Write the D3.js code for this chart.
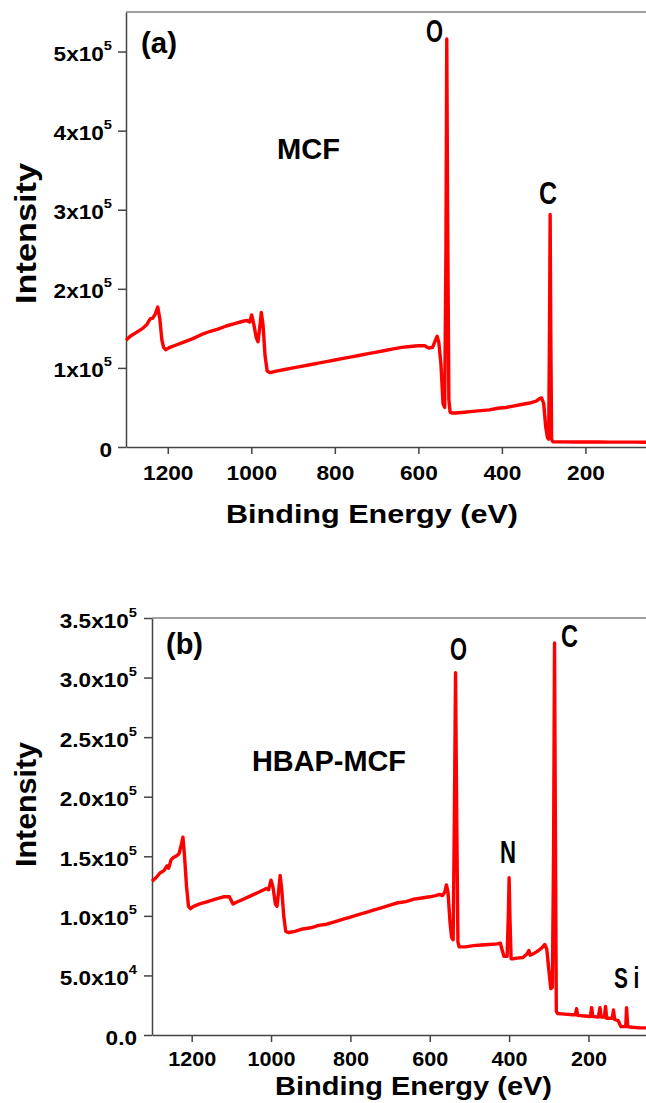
<!DOCTYPE html>
<html>
<head>
<meta charset="utf-8">
<script src="https://cdn.jsdelivr.net/npm/d3@7"></script>
<style>
  body { margin: 0; background: #fff; overflow: hidden; }
  svg { display: block; }
  text { font-family: Arial, "Liberation Sans", sans-serif; font-weight: bold; fill: #000; }
</style>
</head>
<body>
<svg id="chart" width="646" height="1103"></svg>
<script>
// XPS survey spectra (binding energy in eV, counts)
var mcfEnergy = [1300, 1290, 1275, 1260, 1250, 1242, 1236, 1230, 1224, 1219, 1214, 1210, 1205, 1195, 1180, 1160,
	1140, 1120, 1100, 1080, 1060, 1040, 1020, 1010, 1004, 999, 994, 988, 984, 980, 976, 972, 967, 962, 955, 940,
	920, 900, 880, 860, 840, 820, 800, 780, 760, 740, 720, 700, 680, 660, 640, 620, 600, 585, 575, 566, 560, 555,
	551, 546, 541, 537, 534, 532, 530, 527, 524, 520, 510, 490, 470, 450, 430, 410, 390, 370, 350, 330, 318, 310,
	305, 300, 295, 291, 288, 286, 284.5, 283, 281, 278, 270, 250, 230, 200, 170, 140, 110, 80, 55];
var mcfIntensity = [1.35e5, 1.40e5, 1.45e5, 1.50e5, 1.55e5, 1.62e5, 1.63e5, 1.68e5, 1.77e5, 1.62e5, 1.35e5, 1.26e5,
	1.23e5, 1.26e5, 1.29e5, 1.33e5, 1.37e5, 1.42e5, 1.46e5, 1.49e5, 1.53e5, 1.56e5, 1.59e5, 1.60e5, 1.58e5, 1.67e5,
	1.55e5, 1.38e5, 1.33e5, 1.50e5, 1.70e5, 1.55e5, 1.15e5, 0.96e5, 0.94e5, 0.96e5, 0.98e5, 1.00e5, 1.02e5, 1.04e5,
	1.06e5, 1.08e5, 1.10e5, 1.12e5, 1.14e5, 1.16e5, 1.18e5, 1.20e5, 1.22e5, 1.24e5, 1.26e5, 1.27e5, 1.28e5, 1.28e5,
	1.25e5, 1.26e5, 1.34e5, 1.40e5, 1.32e5, 1.05e5, 0.55e5, 0.50e5, 2.5e5, 5.16e5, 3.0e5, 0.60e5, 0.44e5, 0.43e5,
	0.43e5, 0.44e5, 0.45e5, 0.46e5, 0.47e5, 0.49e5, 0.50e5, 0.52e5, 0.54e5, 0.56e5, 0.58e5, 0.61e5, 0.62e5, 0.55e5,
	0.25e5, 0.12e5, 0.10e5, 1.5e5, 2.94e5, 1.5e5, 0.10e5, 0.065e5, 0.065e5, 0.065e5, 0.064e5, 0.064e5, 0.063e5,
	0.062e5, 0.062e5, 0.061e5, 0.06e5];

var hbapEnergy = [1300, 1290, 1280, 1270, 1262, 1258, 1252, 1246, 1240, 1232, 1226, 1222, 1218, 1213, 1208, 1203,
	1195, 1180, 1160, 1140, 1120, 1105, 1096, 1090, 1070, 1050, 1030, 1012, 1006, 1000, 995, 989, 985, 981, 977, 973,
	968, 963, 955, 940, 920, 900, 880, 860, 840, 820, 800, 780, 760, 740, 720, 700, 680, 660, 640, 620, 600, 585, 575,
	568, 562, 558, 554, 549, 545, 541, 538, 535, 532, 529, 526, 510, 490, 470, 450, 430, 422, 418, 413, 405, 402, 400,
	398, 395, 390, 380, 365, 355, 350, 347, 340, 330, 318, 310, 305, 300, 295, 291, 288, 285.5, 283, 281, 278, 260,
	240, 233, 230, 227, 210, 195, 192, 189, 175, 171, 168, 160, 157, 154, 140, 137, 134, 125, 118, 110, 106, 104, 101,
	90, 70, 55];
var hbapIntensity = [1.29e5, 1.32e5, 1.36e5, 1.38e5, 1.42e5, 1.40e5, 1.47e5, 1.49e5, 1.50e5, 1.52e5, 1.60e5, 1.66e5,
	1.50e5, 1.25e5, 1.08e5, 1.06e5, 1.08e5, 1.10e5, 1.12e5, 1.14e5, 1.16e5, 1.16e5, 1.10e5, 1.11e5, 1.14e5, 1.17e5,
	1.20e5, 1.23e5, 1.22e5, 1.30e5, 1.24e5, 1.10e5, 1.08e5, 1.20e5, 1.34e5, 1.22e5, 1.00e5, 0.87e5, 0.86e5, 0.87e5,
	0.89e5, 0.90e5, 0.92e5, 0.93e5, 0.95e5, 0.97e5, 0.99e5, 1.01e5, 1.03e5, 1.05e5, 1.07e5, 1.09e5, 1.11e5, 1.12e5,
	1.14e5, 1.15e5, 1.16e5, 1.17e5, 1.18e5, 1.17e5, 1.20e5, 1.26e5, 1.20e5, 0.95e5, 0.82e5, 0.80e5, 1.8e5, 3.04e5,
	1.8e5, 0.78e5, 0.74e5, 0.74e5, 0.75e5, 0.755e5, 0.76e5, 0.765e5, 0.77e5, 0.72e5, 0.66e5, 0.66e5, 1.0e5, 1.32e5,
	1.0e5, 0.64e5, 0.64e5, 0.645e5, 0.65e5, 0.68e5, 0.71e5, 0.67e5, 0.68e5, 0.70e5, 0.73e5, 0.76e5, 0.72e5, 0.55e5,
	0.39e5, 0.40e5, 1.5e5, 3.29e5, 1.5e5, 0.20e5, 0.18e5, 0.175e5, 0.17e5, 0.17e5, 0.22e5, 0.165e5, 0.16e5, 0.155e5,
	0.23e5, 0.155e5, 0.15e5, 0.23e5, 0.15e5, 0.15e5, 0.24e5, 0.14e5, 0.14e5, 0.21e5, 0.13e5, 0.12e5, 0.07e5, 0.07e5,
	0.07e5, 0.23e5, 0.07e5, 0.065e5, 0.06e5, 0.06e5];

var xTicks = [1200, 1000, 800, 600, 400, 200];
var yTicksA = [0, 1e5, 2e5, 3e5, 4e5, 5e5];
var yLabelsA = [["0", ""], ["1x10", "5"], ["2x10", "5"], ["3x10", "5"], ["4x10", "5"], ["5x10", "5"]];
var yTicksB = [0, 5e4, 1e5, 1.5e5, 2e5, 2.5e5, 3e5, 3.5e5];
var yLabelsB = [["0.0", ""], ["5.0x10", "4"], ["1.0x10", "5"], ["1.5x10", "5"], ["2.0x10", "5"],
	["2.5x10", "5"], ["3.0x10", "5"], ["3.5x10", "5"]];

var svg = d3.select('#chart');

var panels = [
	{
		top: 12, bottom: 447, left: 126, right: 646,
		energy: mcfEnergy, intensity: mcfIntensity,
		yMax: 5.5e5, yTicks: yTicksA, yLabels: yLabelsA,
		labelGap: 14, tickY: 33, tickSize: 21,
		titleX: 226, titleY: 523, titleSize: 25, titleLen: 292,
		yTitleY: 233.5, yTitleLen: 141,
		tag: { t: '(a)', x: 141, y: 53, len: 36 },
		name: { t: 'MCF', x: 277, y: 159, len: 63 },
		peaks: [
			{ t: 'O', x: 426, y: 42, len: 17 },
			{ t: 'C', x: 539, y: 204, len: 18 }
		]
	},
	{
		top: 618, bottom: 1035, left: 152, right: 646,
		energy: hbapEnergy, intensity: hbapIntensity,
		yMax: 3.5e5, yTicks: yTicksB, yLabels: yLabelsB,
		labelGap: 15, tickY: 31, tickSize: 20,
		titleX: 275, titleY: 1095, titleSize: 26, titleLen: 277,
		yTitleY: 804.5, yTitleLen: 125,
		tag: { t: '(b)', x: 166, y: 654, len: 37 },
		name: { t: 'HBAP-MCF', x: 252, y: 771, len: 154 },
		peaks: [
			{ t: 'O', x: 450, y: 660, len: 17 },
			{ t: 'C', x: 561, y: 647, len: 17 },
			{ t: 'N', x: 500, y: 863, len: 16 }
		]
	}
];

function drawPanel(p, idx) {
	var g = svg.append('g').attr('class', 'panel panel-' + idx);

	var x = d3.scaleLinear().domain([1300, 55]).range([p.left, p.right]);
	var y = d3.scaleLinear().domain([0, p.yMax]).range([p.bottom, p.top]);

	// x axis
	var xAxis = d3.axisBottom(x).tickValues(xTicks).tickSize(7).tickSizeOuter(0).tickFormat(d3.format('d'));
	var gx = g.append('g').attr('transform', 'translate(0,' + p.bottom + ')').call(xAxis);
	gx.selectAll('text')
		.attr('y', p.tickY).attr('dy', null)
		.attr('font-size', p.tickSize)
		.attr('font-family', 'Arial, "Liberation Sans", sans-serif')
		.attr('transform', 'scale(1.08,1)');

	// y axis, labels drawn by hand for the superscripts
	var yAxis = d3.axisLeft(y).tickValues(p.yTicks).tickSize(8).tickSizeOuter(0).tickFormat('');
	var gy = g.append('g').attr('transform', 'translate(' + p.left + ',0)').call(yAxis);
	gy.selectAll('.tick').each(function(d, i) {
		var tick = d3.select(this);
		tick.select('text').remove();
		var lab = p.yLabels[i];
		var t = tick.append('text')
			.attr('text-anchor', 'end')
			.attr('transform', 'translate(' + (-p.labelGap) + ',9) scale(1.13,1)')
			.attr('font-size', 20);
		t.append('tspan').text(lab[0]);
		if (lab[1]) {
			t.append('tspan').attr('dy', -11).attr('font-size', 13).text(lab[1]);
		}
	});

	[gx, gy].forEach(function(a) {
		a.selectAll('path, line').attr('stroke', '#444').attr('stroke-width', 1.5);
	});

	// top frame line
	g.append('line')
		.attr('x1', p.left).attr('x2', p.right)
		.attr('y1', p.top).attr('y2', p.top)
		.attr('stroke', '#808080').attr('stroke-width', 1.5);

	// spectrum
	var pts = p.energy.map(function(e, i) { return [e, p.intensity[i]]; });
	var line = d3.line()
		.x(function(d) { return x(d[0]); })
		.y(function(d) { return y(d[1]); });
	g.append('path')
		.datum(pts)
		.attr('d', line)
		.attr('fill', 'none')
		.attr('stroke', '#ff0000')
		.attr('stroke-width', 3.4)
		.attr('stroke-linejoin', 'round');

	// axis titles
	g.append('text')
		.attr('x', p.titleX).attr('y', p.titleY)
		.attr('font-size', p.titleSize)
		.attr('textLength', p.titleLen).attr('lengthAdjust', 'spacingAndGlyphs')
		.text('Binding Energy (eV)');
	g.append('text')
		.attr('transform', 'translate(36,' + p.yTitleY + ') rotate(-90)')
		.attr('text-anchor', 'middle')
		.attr('font-size', 30)
		.attr('textLength', p.yTitleLen).attr('lengthAdjust', 'spacingAndGlyphs')
		.text('Intensity');

	// panel tag and sample name
	g.append('text')
		.attr('x', p.tag.x).attr('y', p.tag.y)
		.attr('font-size', 29)
		.attr('textLength', p.tag.len).attr('lengthAdjust', 'spacingAndGlyphs')
		.text(p.tag.t);
	g.append('text')
		.attr('x', p.name.x).attr('y', p.name.y)
		.attr('font-size', 29)
		.attr('textLength', p.name.len).attr('lengthAdjust', 'spacingAndGlyphs')
		.text(p.name.t);

	// element labels on the peaks
	p.peaks.forEach(function(k) {
		g.append('text')
			.attr('x', k.x).attr('y', k.y)
			.attr('font-size', 32)
			.attr('textLength', k.len).attr('lengthAdjust', 'spacingAndGlyphs')
			.text(k.t);
	});

	return g;
}

var gb;
panels.forEach(function(p, i) {
	var g = drawPanel(p, i);
	if (i === 1) gb = g;
});

// "Si" in panel (b) is letter-spaced and narrow like the other element labels
var si = gb.append('text')
	.attr('transform', 'translate(614,988) scale(0.72,1)')
	.attr('font-size', 29);
si.append('tspan').attr('x', 0).text('S');
si.append('tspan').attr('x', 27).text('i');
</script>
</body>
</html>
